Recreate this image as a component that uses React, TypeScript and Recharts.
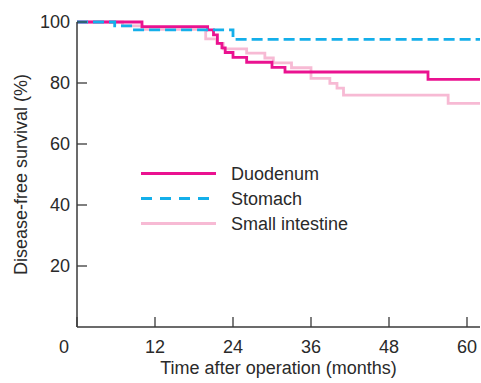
import { LineChart, Line, XAxis, YAxis, Legend } from 'recharts'

// months after operation / disease-free survival (%)
const DUODENUM_T = [0, 10, 20.1, 21, 21.6, 22.3, 22.8, 24, 26.1, 30, 32, 54, 62]
const DUODENUM_S = [100, 98.5, 97.4, 95.8, 93, 91.5, 90, 88.4, 86.8, 85.1, 83.6, 81.2, 81.2]

const STOMACH_T = [0, 5.8, 8.5, 24, 62]
const STOMACH_S = [100, 98.7, 97.4, 94.3, 94.3]

const SMALL_T = [0, 7, 10, 19.8, 21.5, 22.5, 26.1, 28.9, 30.2, 33, 36, 38.9, 40, 41, 57.1, 62]
const SMALL_S = [100, 98.7, 97.6, 94.5, 93, 91.2, 89.8, 88.2, 86.6, 85, 81.5, 79.9, 78.3, 76, 73.3, 73.3]

const X_TICKS = [0, 12, 24, 36, 48, 60]
const Y_TICKS = [20, 40, 60, 80, 100]

const FONT = '"Liberation Sans", Arial, Helvetica, sans-serif'
const INK = '#2a2a2a'
const AXIS = '#3a3a3a'

const SERIES = [
  { name: 'Small intestine', color: '#F7BAD4', dash: undefined, legendDash: undefined },
  { name: 'Duodenum', color: '#EA1290', dash: undefined, legendDash: undefined },
  { name: 'Stomach', color: '#14AFEA', dash: '11 5', legendDash: '11 8' },
]
const LEGEND_ORDER = ['Duodenum', 'Stomach', 'Small intestine']

const toRows = (t: number[], s: number[]) => t.map((m, i) => ({ t: m, s: s[i] }))
const DATA: Record<string, { t: number; s: number }[]> = {
  Duodenum: toRows(DUODENUM_T, DUODENUM_S),
  Stomach: toRows(STOMACH_T, STOMACH_S),
  'Small intestine': toRows(SMALL_T, SMALL_S),
}

function XTick(props: any) {
  const { x, y, payload } = props
  const shift = payload.value === 0 ? -13 : 0
  return (
    <text x={x + shift} y={y + 13} textAnchor="middle" fontSize={18} fontFamily={FONT} fill={INK}>
      {payload.value}
    </text>
  )
}

function LegendBox() {
  return (
    <svg width={240} height={75}>
      {LEGEND_ORDER.map((name, i) => {
        const s = SERIES.find((d) => d.name === name)!
        const cy = 12.5 + i * 25
        return (
          <g key={name}>
            <line x1={0} x2={75} y1={cy} y2={cy} stroke={s.color} strokeWidth={2.8} strokeDasharray={s.legendDash} />
            <text x={90} y={cy + 6} fontSize={18} fontFamily={FONT} fill={INK}>{name}</text>
          </g>
        )
      })}
    </svg>
  )
}

export default function App() {
  return (
    <div style={{ position: 'absolute', left: 0, top: 0, width: 481, height: 383, background: '#fff' }}>
      <LineChart width={481} height={383} margin={{ top: 22, right: 1, bottom: 0, left: 0 }}>
        <XAxis
          dataKey="t"
          type="number"
          domain={[0, 62]}
          ticks={X_TICKS}
          height={56}
          tickSize={-10}
          tickMargin={23}
          tick={<XTick />}
          axisLine={{ stroke: AXIS, strokeWidth: 1.5 }}
          tickLine={{ stroke: AXIS, strokeWidth: 1.3 }}
          allowDuplicatedCategory={false}
          label={{
            content: ({ viewBox }: any) => (
              <text x={viewBox.x + viewBox.width / 2} y={374} textAnchor="middle" fontSize={18} fontFamily={FONT} fill={INK}>
                Time after operation (months)
              </text>
            ),
          }}
        />
        <YAxis
          type="number"
          domain={[0, 100]}
          ticks={Y_TICKS}
          width={77}
          tickSize={-10}
          tickMargin={17}
          tick={{ fontSize: 18, fontFamily: FONT, fill: INK }}
          axisLine={{ stroke: AXIS, strokeWidth: 1.5 }}
          tickLine={{ stroke: AXIS, strokeWidth: 1.3 }}
          label={{
            content: ({ viewBox }: any) => {
              const cx = 26.5
              const cy = viewBox.y + viewBox.height / 2
              return (
                <text x={cx} y={cy} transform={`rotate(-90 ${cx} ${cy})`} textAnchor="middle" fontSize={18} fontFamily={FONT} fill={INK}>
                  Disease-free survival (%)
                </text>
              )
            },
          }}
        />
        <Legend
          layout="vertical"
          align="center"
          verticalAlign="middle"
          content={<LegendBox />}
          wrapperStyle={{ position: 'absolute', left: 141, top: 160.5, width: 240, height: 75 }}
        />
        {SERIES.map((s) => (
          <Line
            key={s.name}
            name={s.name}
            data={DATA[s.name]}
            dataKey="s"
            type="stepAfter"
            stroke={s.color}
            strokeWidth={2.8}
            strokeDasharray={s.dash}
            dot={false}
            activeDot={false}
            isAnimationActive={false}
          />
        ))}
      </LineChart>
    </div>
  )
}
